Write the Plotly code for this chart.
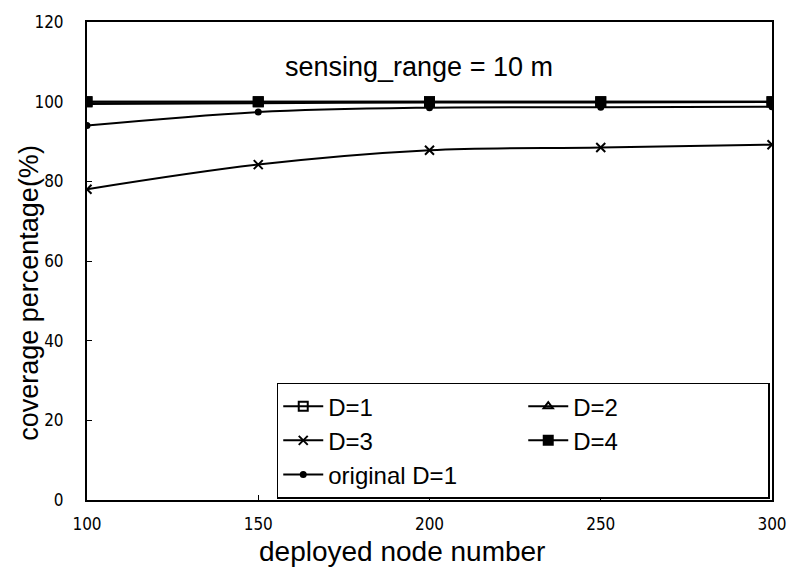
import plotly.graph_objects as go

nodes = [100, 150, 200, 250, 300]
d1 = [100, 100, 100, 100, 100]
d2 = [99.4, 99.6, 99.8, 99.8, 99.9]
d3 = [78, 84.2, 87.8, 88.5, 89.2]
d4 = [100, 100, 100, 100, 100]
orig_d1 = [94, 97.4, 98.5, 98.6, 98.7]

series = [
    ("D=1", d1, "square-open", 9),
    ("D=2", d2, "triangle-up-open", 8),
    ("D=3", d3, "x-thin-open", 9),
    ("D=4", d4, "square", 9),
    ("original D=1", orig_d1, "circle", 5),
]

fig = go.Figure()
for name, vals, sym, sz in series:
    fig.add_trace(go.Scatter(
        x=nodes, y=vals, name=name, mode="lines+markers",
        line=dict(color="black", width=2, shape="spline"),
        marker=dict(symbol=sym, size=sz, color="black",
                    line=dict(color="black", width=2)),
    ))

sans = "Liberation Sans, Arial"
narrow = "DejaVu Sans Condensed, Liberation Sans Narrow, Arial Narrow, Arial"

# chart caption and axis titles
fig.add_annotation(x=0.484, y=0.906, xref="paper", yref="paper",
                   xanchor="center", yanchor="middle",
                   text="sensing_range = 10 m", showarrow=False,
                   font=dict(family=sans, size=27, color="black"))
fig.add_annotation(x=0.46, y=-0.108, xref="paper", yref="paper",
                   xanchor="center", yanchor="middle",
                   text="deployed node number", showarrow=False,
                   font=dict(family=sans, size=28, color="black"))
fig.add_annotation(x=-0.085, y=0.433, xref="paper", yref="paper",
                   xanchor="center", yanchor="middle", textangle=-90,
                   text="coverage percentage(%)", showarrow=False,
                   font=dict(family=sans, size=27, color="black"))

fig.update_layout(
    width=799, height=574,
    margin=dict(l=87, r=20, t=20, b=74),
    paper_bgcolor="white", plot_bgcolor="white",
    showlegend=True,
    legend=dict(
        orientation="h", x=0.277, y=0.003, xanchor="left", yanchor="bottom",
        entrywidth=190, entrywidthmode="pixels",
        bgcolor="white", bordercolor="black", borderwidth=1.5,
        font=dict(family=sans, size=24, color="black"),
        itemwidth=40,
    ),
    xaxis=dict(
        range=[100, 300], tickvals=[100, 150, 200, 250, 300],
        showgrid=False, zeroline=False,
        showline=True, linecolor="black", linewidth=2, mirror=True,
        ticks="inside", ticklen=5, tickcolor="black",
        ticklabelstandoff=8,
        tickfont=dict(family=narrow, size=17, color="black"),
    ),
    yaxis=dict(
        range=[0, 120], tickvals=[0, 20, 40, 60, 80, 100, 120],
        showgrid=False, zeroline=False,
        showline=True, linecolor="black", linewidth=2, mirror=True,
        ticks="inside", ticklen=5, tickcolor="black",
        ticklabelstandoff=18,
        tickfont=dict(family=narrow, size=17, color="black"),
    ),
)

fig.write_html("out.html")
